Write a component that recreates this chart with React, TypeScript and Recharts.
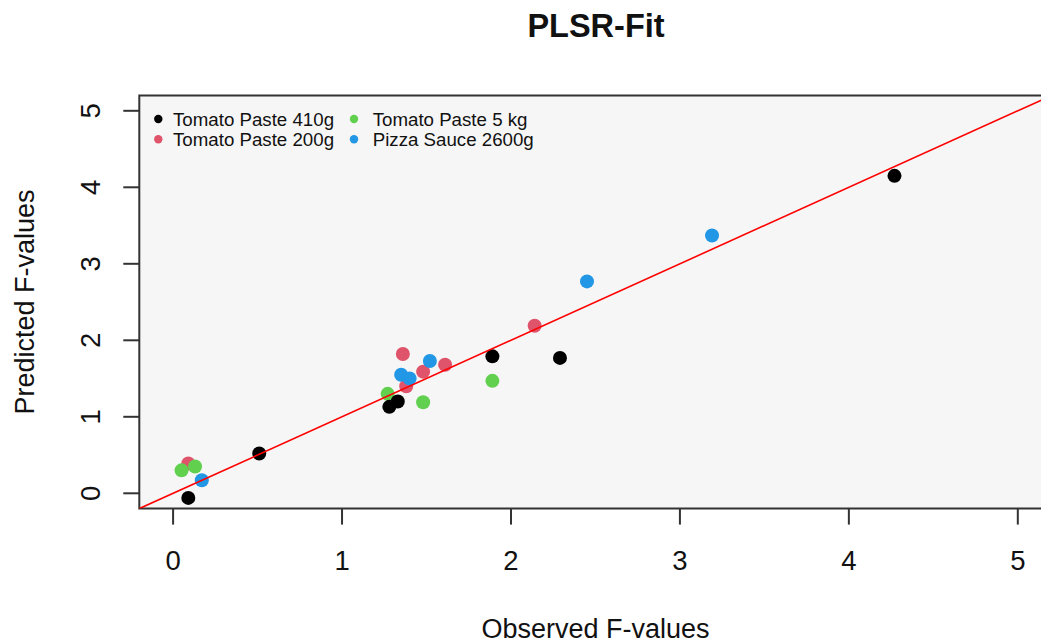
import React from 'react';
import { ScatterChart, Scatter, XAxis, YAxis, CartesianGrid, ReferenceArea } from 'recharts';

const FONT = '"Liberation Sans", Arial, Helvetica, sans-serif';

// Observed vs. predicted F-values per product
const obs410g = [0.09, 0.51, 1.28, 1.33, 1.89, 2.29, 4.27];
const pred410g = [-0.06, 0.52, 1.13, 1.2, 1.79, 1.77, 4.15];

const obs200g = [0.09, 1.36, 1.38, 1.48, 1.61, 2.14];
const pred200g = [0.39, 1.82, 1.4, 1.59, 1.68, 2.19];

const obs5kg = [0.05, 0.13, 1.27, 1.48, 1.89];
const pred5kg = [0.3, 0.35, 1.3, 1.19, 1.47];

const obs2600g = [0.17, 1.35, 1.4, 1.52, 2.45, 3.19];
const pred2600g = [0.17, 1.55, 1.5, 1.73, 2.77, 3.37];

const seriesNames = ['Tomato Paste 410g', 'Tomato Paste 200g', 'Tomato Paste 5 kg', 'Pizza Sauce 2600g'];
const seriesColors = ['#000000', '#DF536B', '#61D04F', '#2297E6'];

const axisTicks = [0, 1, 2, 3, 4, 5];
const axisDomain = [-0.2, 5.2];

// 1:1 reference line end points
const identityLine = [
  { x: -0.2, y: -0.2 },
  { x: 5.2, y: 5.2 },
];

const zip = (xs: number[], ys: number[]) => xs.map((x, i) => ({ x, y: ys[i] }));

const series = [
  { name: seriesNames[0], color: seriesColors[0], data: zip(obs410g, pred410g) },
  { name: seriesNames[1], color: seriesColors[1], data: zip(obs200g, pred200g) },
  { name: seriesNames[2], color: seriesColors[2], data: zip(obs5kg, pred5kg) },
  { name: seriesNames[3], color: seriesColors[3], data: zip(obs2600g, pred2600g) },
];

// drawing order: red, green, blue, then black on top
const drawOrder = [1, 2, 3, 0];

const TICK_FONT = 27.5;

const XTick = (p: any) => (
  <text x={p.x} y={p.y} textAnchor="middle" fontFamily={FONT} fontSize={TICK_FONT} fill="#111">
    {p.payload.value}
  </text>
);

const YTick = (p: any) => (
  <text
    x={p.x}
    y={p.y}
    transform={`rotate(-90 ${p.x} ${p.y})`}
    textAnchor="middle"
    fontFamily={FONT}
    fontSize={TICK_FONT}
    fill="#111"
  >
    {p.payload.value}
  </text>
);

const Dot = (color: string) => (p: any) => <circle cx={p.cx} cy={p.cy} r={7} fill={color} />;

const Empty = () => <g />;

export default function App() {
  return (
    <div style={{ position: 'absolute', left: 0, top: 0, width: 1041, height: 644, overflow: 'hidden', background: '#fff' }}>
      <ScatterChart width={1100} height={644} margin={{ top: 95.5, right: 48.4, bottom: 0, left: 0.3 }}>
        <CartesianGrid horizontal={false} vertical={false} fill="#f6f6f6" />
        <XAxis
          type="number"
          dataKey="x"
          domain={axisDomain}
          ticks={axisTicks}
          allowDataOverflow
          axisLine={false}
          tickLine={{ stroke: '#333', strokeWidth: 2 }}
          tickSize={16}
          tickMargin={45.4}
          height={135.4}
          tick={XTick}
          label={{
            content: (lp: any) => {
              const vb = lp.viewBox;
              return (
                <text x={vb.x + vb.width / 2} y={vb.y + 129.4} textAnchor="middle" fontFamily={FONT} fontSize={27} fill="#111">
                  Observed F-values
                </text>
              );
            },
          }}
        />
        <YAxis
          type="number"
          dataKey="y"
          domain={axisDomain}
          ticks={axisTicks}
          allowDataOverflow
          axisLine={false}
          tickLine={{ stroke: '#333', strokeWidth: 2 }}
          tickSize={16}
          tickMargin={23.3}
          width={139}
          tick={YTick}
          label={{
            content: (lp: any) => {
              const vb = lp.viewBox;
              const cx = vb.x + 33.7;
              const cy = vb.y + vb.height / 2;
              return (
                <text
                  x={cx}
                  y={cy}
                  transform={`rotate(-90 ${cx} ${cy})`}
                  textAnchor="middle"
                  fontFamily={FONT}
                  fontSize={27}
                  fill="#111"
                >
                  Predicted F-values
                </text>
              );
            },
          }}
        />
        <ReferenceArea
          x1={axisDomain[0]}
          x2={axisDomain[1]}
          y1={axisDomain[0]}
          y2={axisDomain[1]}
          fill="none"
          fillOpacity={0}
          stroke="#333"
          strokeWidth={2}
        />
        {drawOrder.map((i) => (
          <Scatter
            key={series[i].name}
            name={series[i].name}
            data={series[i].data}
            fill={series[i].color}
            shape={Dot(series[i].color)}
            isAnimationActive={false}
          />
        ))}
        <Scatter
          data={identityLine}
          line={{ stroke: '#ff0000', strokeWidth: 1.6 }}
          shape={Empty}
          legendType="none"
          isAnimationActive={false}
        />
      </ScatterChart>
      <svg
        width={1041}
        height={644}
        style={{ position: 'absolute', left: 0, top: 0, pointerEvents: 'none' }}
      >
        <text x={596} y={37} textAnchor="middle" fontFamily={FONT} fontWeight="bold" fontSize={32.5} fill="#111">
          PLSR-Fit
        </text>
        {series.map((s, i) => {
          const col = Math.floor(i / 2);
          const row = i % 2;
          const dotX = [158.3, 354][col];
          const textX = [173, 372.7][col];
          return (
            <g key={s.name}>
              <circle cx={dotX} cy={119 + row * 20.3} r={4.2} fill={s.color} />
              <text x={textX} y={125.5 + row * 20} fontFamily={FONT} fontSize={18.7} fill="#111">
                {s.name}
              </text>
            </g>
          );
        })}
      </svg>
    </div>
  );
}
